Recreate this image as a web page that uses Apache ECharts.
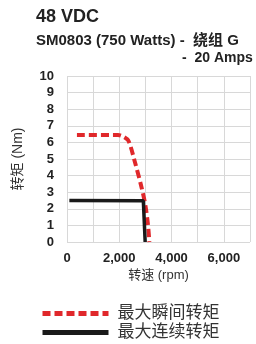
<!DOCTYPE html>
<html>
<head>
<meta charset="utf-8">
<script src="https://cdn.jsdelivr.net/npm/echarts@6/dist/echarts.min.js"></script>
<style>
html, body { margin: 0; padding: 0; background: #fff; }
#chart { width: 256px; height: 344px; }
</style>
</head>
<body>
<div id="chart"></div>
<script>
// 数据：转速 (rpm) 与 转矩 (Nm)
var peakTorque = [[380, 6.45], [1950, 6.45], [2150, 6.35], [2350, 6.1], [2600, 4.8], [2850, 3.3], [3000, 2.2], [3100, 1.0], [3150, 0]];
var contTorque = [[90, 2.5], [2920, 2.48], [2990, 0]];
var seriesNames = ['最大瞬间转矩', '最大连续转矩'];

var chart = echarts.init(document.getElementById('chart'));
var font = '"Liberation Sans", Arial, "Noto Sans CJK SC", sans-serif';

// 图例：每个一行
function legendAt(name, top) {
    return {
        data: [name],
        left: 35, top: top,
        itemWidth: 66, itemHeight: 12, itemGap: 0,
        itemStyle: { opacity: 0 },
        lineStyle: { width: 5 },
        textStyle: { fontSize: 17, color: '#333', padding: [0, 0, 0, 4] }
    };
}

var option = {
    animation: false,
    textStyle: { fontFamily: font },
    title: [
        {
            text: '48 VDC',
            left: 31, top: 3,
            textStyle: { fontSize: 18, fontWeight: 'bold', color: '#222' }
        },
        {
            text: 'SM0803 (750 Watts) -  绕组 G',
            left: 31, top: 28,
            textStyle: { fontSize: 15, fontWeight: 'bold', color: '#222' }
        },
        {
            text: '-  20 Amps',
            left: 177, top: 46,
            textStyle: { fontSize: 14, fontWeight: 'bold', color: '#222' }
        }
    ],
    legend: [legendAt(seriesNames[0], 300), legendAt(seriesNames[1], 319)],
    grid: { left: 67, right: 6, top: 76, bottom: 102 },
    xAxis: {
        type: 'value', min: 0, max: 7000, interval: 1000,
        name: '转速 (rpm)', nameLocation: 'middle', nameGap: 27,
        nameTextStyle: { fontSize: 13, color: '#333' },
        axisLine: { show: false }, axisTick: { show: false },
        axisLabel: {
            fontSize: 13, fontWeight: 'bold', color: '#222', margin: 10,
            formatter: function (v) { return v % 2000 === 0 ? v.toLocaleString('en-US') : ''; }
        },
        splitLine: { lineStyle: { color: '#d8d8d8' } }
    },
    yAxis: {
        type: 'value', min: 0, max: 10, interval: 1,
        name: '转矩 (Nm)', nameLocation: 'middle', nameGap: 42,
        nameTextStyle: { fontSize: 14, color: '#333' },
        axisLine: { show: false }, axisTick: { show: false },
        axisLabel: { fontSize: 13, fontWeight: 'bold', color: '#222', margin: 13 },
        splitLine: { lineStyle: { color: '#d8d8d8' } }
    },
    series: [
        {
            name: seriesNames[0], type: 'line', data: peakTorque,
            symbol: 'none', smooth: 0.3,
            lineStyle: { color: '#e0282b', width: 4, type: [8, 4] },
            itemStyle: { color: '#e0282b' }
        },
        {
            name: seriesNames[1], type: 'line', data: contTorque,
            symbol: 'none',
            lineStyle: { color: '#1a1a1a', width: 3.5 },
            itemStyle: { color: '#1a1a1a' }
        }
    ]
};

chart.setOption(option);
</script>
</body>
</html>
